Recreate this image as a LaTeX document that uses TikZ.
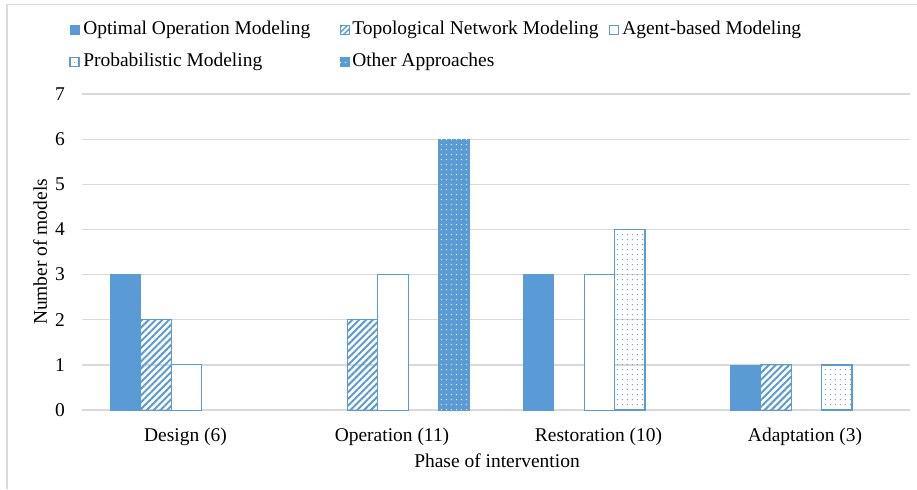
\documentclass[tikz,border=0pt]{standalone}
\usepackage{fontspec}
\setmainfont{Liberation Serif}
\usetikzlibrary{patterns.meta}

\definecolor{barblue}{RGB}{91,155,213}
\definecolor{gridgray}{RGB}{217,217,217}

\tikzset{
  optbar/.style={fill=barblue, draw=barblue, line width=0.5pt},
  topobar/.style={draw=barblue, line width=0.75pt, pattern={Lines[angle=45,distance=3.6pt,line width=1.5pt]}, pattern color=barblue},
  agentbar/.style={draw=barblue, line width=0.75pt, fill=white},
  probbar/.style={draw=barblue, line width=0.9pt, pattern={Dots[distance=4pt,radius=0.55pt]}, pattern color=barblue},
  otherbar/.style={fill=barblue, draw=barblue, line width=0.5pt, postaction={pattern={Dots[distance=4pt,radius=0.5pt]}, pattern color=white}},
  txt/.style={inner sep=0.75pt, font=\fontsize{14.6}{17}\selectfont},
  gridline/.style={draw=gridgray, line width=0.9pt}
}

\begin{document}
\begin{tikzpicture}[x=0.75pt,y=0.75pt,yscale=-1,xscale=1]
\useasboundingbox (0,0) rectangle (917,489);

%Frame
\draw [draw=gridgray, line width=1.2pt] (7,489) -- (7,4.5) -- (917,4.5) ;

%Grid lines
\draw [gridline] (82,94) -- (910,94) ;
\draw [gridline] (82,139.1) -- (910,139.1) ;
\draw [gridline] (82,184.3) -- (910,184.3) ;
\draw [gridline] (82,229.4) -- (910,229.4) ;
\draw [gridline] (82,274.6) -- (910,274.6) ;
\draw [gridline] (82,319.7) -- (910,319.7) ;
\draw [gridline] (82,364.9) -- (910,364.9) ;
\draw [gridline] (82,410) -- (910,410) ;

% Tick labels
\node (t0) [txt, anchor=east] at (66,410) {0};
\node (t1) [txt, anchor=east] at (66,364.9) {1};
\node (t2) [txt, anchor=east] at (66,319.7) {2};
\node (t3) [txt, anchor=east] at (66,274.6) {3};
\node (t4) [txt, anchor=east] at (66,229.4) {4};
\node (t5) [txt, anchor=east] at (66,184.3) {5};
\node (t6) [txt, anchor=east] at (66,139.1) {6};
\node (t7) [txt, anchor=east] at (66,94) {7};

%Bars: Design (6)
\draw [optbar] (110,410) rectangle (140.5,274.6) ;
\draw [topobar] (140.5,410) rectangle (171,319.7) ;
\draw [agentbar] (171,410) rectangle (201.5,364.9) ;

%Bars: Operation (11)
\draw [topobar] (347,410) rectangle (377.5,319.7) ;
\draw [agentbar] (377.5,410) rectangle (408,274.6) ;
\draw [otherbar] (438.5,410) rectangle (469,139.1) ;

%Bars: Restoration (10)
\draw [optbar] (523,410) rectangle (553.5,274.6) ;
\draw [agentbar] (584,410) rectangle (614.5,274.6) ;
\draw [probbar] (614.5,410) rectangle (645,229.4) ;

%Bars: Adaptation (3)
\draw [optbar] (730,410) rectangle (760.5,364.9) ;
\draw [topobar] (760.5,410) rectangle (791,364.9) ;
\draw [probbar] (821.5,410) rectangle (852,364.9) ;

% Category labels
\node (design) [txt] at (185.5,437) {Design (6)};
\node (operation) [txt] at (392,437) {Operation (11)};
\node (restoration) [txt] at (598.5,437) {Restoration (10)};
\node (adaptation) [txt] at (805,437) {Adaptation (3)};

% Axis titles
\node (xtitle) [txt] at (497,461) {Phase of intervention};
\node (ytitle) [txt, rotate=90] at (40,252) {Number of models};

%Legend
\draw [optbar] (70,25.5) rectangle (79,34.5) ;
\node (lopt) [txt, anchor=west] at (82,30) {Optimal Operation Modeling};
\draw [topobar, pattern={Lines[angle=45,distance=2.8pt,line width=1.1pt]}] (340,25.5) rectangle (349,34.5) ;
\node (ltopo) [txt, anchor=west] at (351,30) {Topological Network Modeling};
\draw [agentbar] (609,25.5) rectangle (618,34.5) ;
\node (lagent) [txt, anchor=west] at (621,30) {Agent-based Modeling};
\draw [probbar] (70,57.5) rectangle (79,66.5) ;
\node (lprob) [txt, anchor=west] at (82,62) {Probabilistic Modeling};
\draw [otherbar] (340,57.5) rectangle (349,66.5) ;
\node (lother) [txt, anchor=west] at (351,62) {Other Approaches};

\end{tikzpicture}
\end{document}
